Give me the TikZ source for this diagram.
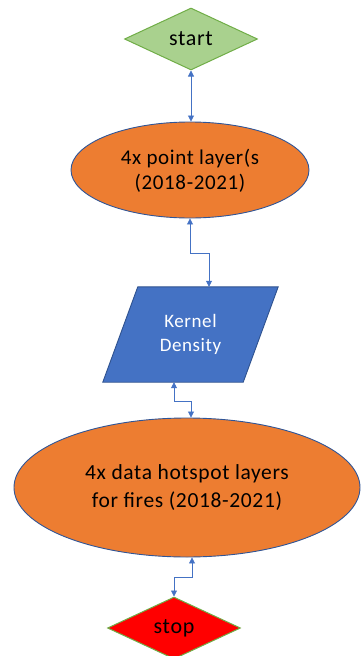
\documentclass[tikz,border=0pt]{standalone}
\usepackage{fontspec}
\setmainfont{Carlito}[LetterSpace=3]
\usetikzlibrary{shapes.geometric,arrows.meta,calc,backgrounds}
\definecolor{startfill}{HTML}{A9D18E}
\definecolor{greenline}{HTML}{70AD47}
\definecolor{orangefill}{HTML}{ED7D31}
\definecolor{ellline}{HTML}{2F5597}
\definecolor{bluefill}{HTML}{4472C4}
\definecolor{blueline}{HTML}{2F528F}
\definecolor{connblue}{HTML}{4472C4}
\definecolor{stopred}{HTML}{FF0000}
\tikzset{
  termbox/.style={diamond, draw=greenline, line width=1pt, inner sep=0pt,
    minimum width=133pt, minimum height=62pt, font=\fontsize{22}{24}\selectfont},
  datael/.style={ellipse, fill=orangefill, draw=ellline, line width=0.9pt, inner sep=0pt,
    align=center},
  conn/.style={draw=connblue, line width=0.8pt,
    {Triangle[length=6pt,width=6pt]}-{Triangle[length=6pt,width=6pt]}}
}
\begin{document}
\begin{tikzpicture}[x=1pt,y=-1pt]
\useasboundingbox (0,0) rectangle (360,656);
\node[termbox, fill=startfill] (start) at (191,39) {start};
\node[datael, minimum width=238pt, minimum height=96pt,
  font=\fontsize{21}{25}\selectfont] (e1) at (190,170)
  {\strut4x point layer(s\\(2018-2021)};
\node[draw=none, minimum width=175pt, minimum height=95pt, inner sep=0pt,
  text=white, align=center, font=\fontsize{19}{24}\selectfont] (kd) at (190.5,334.5)
  {Kernel\\Density};
\begin{scope}[on background layer]
\draw[fill=bluefill, draw=blueline, line width=0.9pt]
  ($(kd.north west)+(35,0)$) -- (kd.north east) -- ($(kd.south east)-(35,0)$)
  -- (kd.south west) -- cycle;
\end{scope}
\coordinate (kdtop) at ($(kd.north)+(18.5,0)$);
\coordinate (kdbot) at ($(kd.south)+(-16.5,0)$);
\node[datael, minimum width=346pt, minimum height=139pt,
  font=\fontsize{21.5}{28}\selectfont] (e2) at (187,487.5)
  {4x data hotspot layers\\for fires (2018-2021)};
\node[termbox, fill=stopred] (stop) at (174,628) {stop};
\draw[conn] (start.south) -- (start.south |- e1.north);
\draw[conn] (e1.south) -- ++(0,35) -| (kdtop);
\draw[conn] (kdbot) -- ++(0,19) -| ([xshift=4pt]e2.north);
\draw[conn] ([xshift=5pt]e2.south) -- ++(0,20) -| (stop.north);
\end{tikzpicture}
\end{document}
